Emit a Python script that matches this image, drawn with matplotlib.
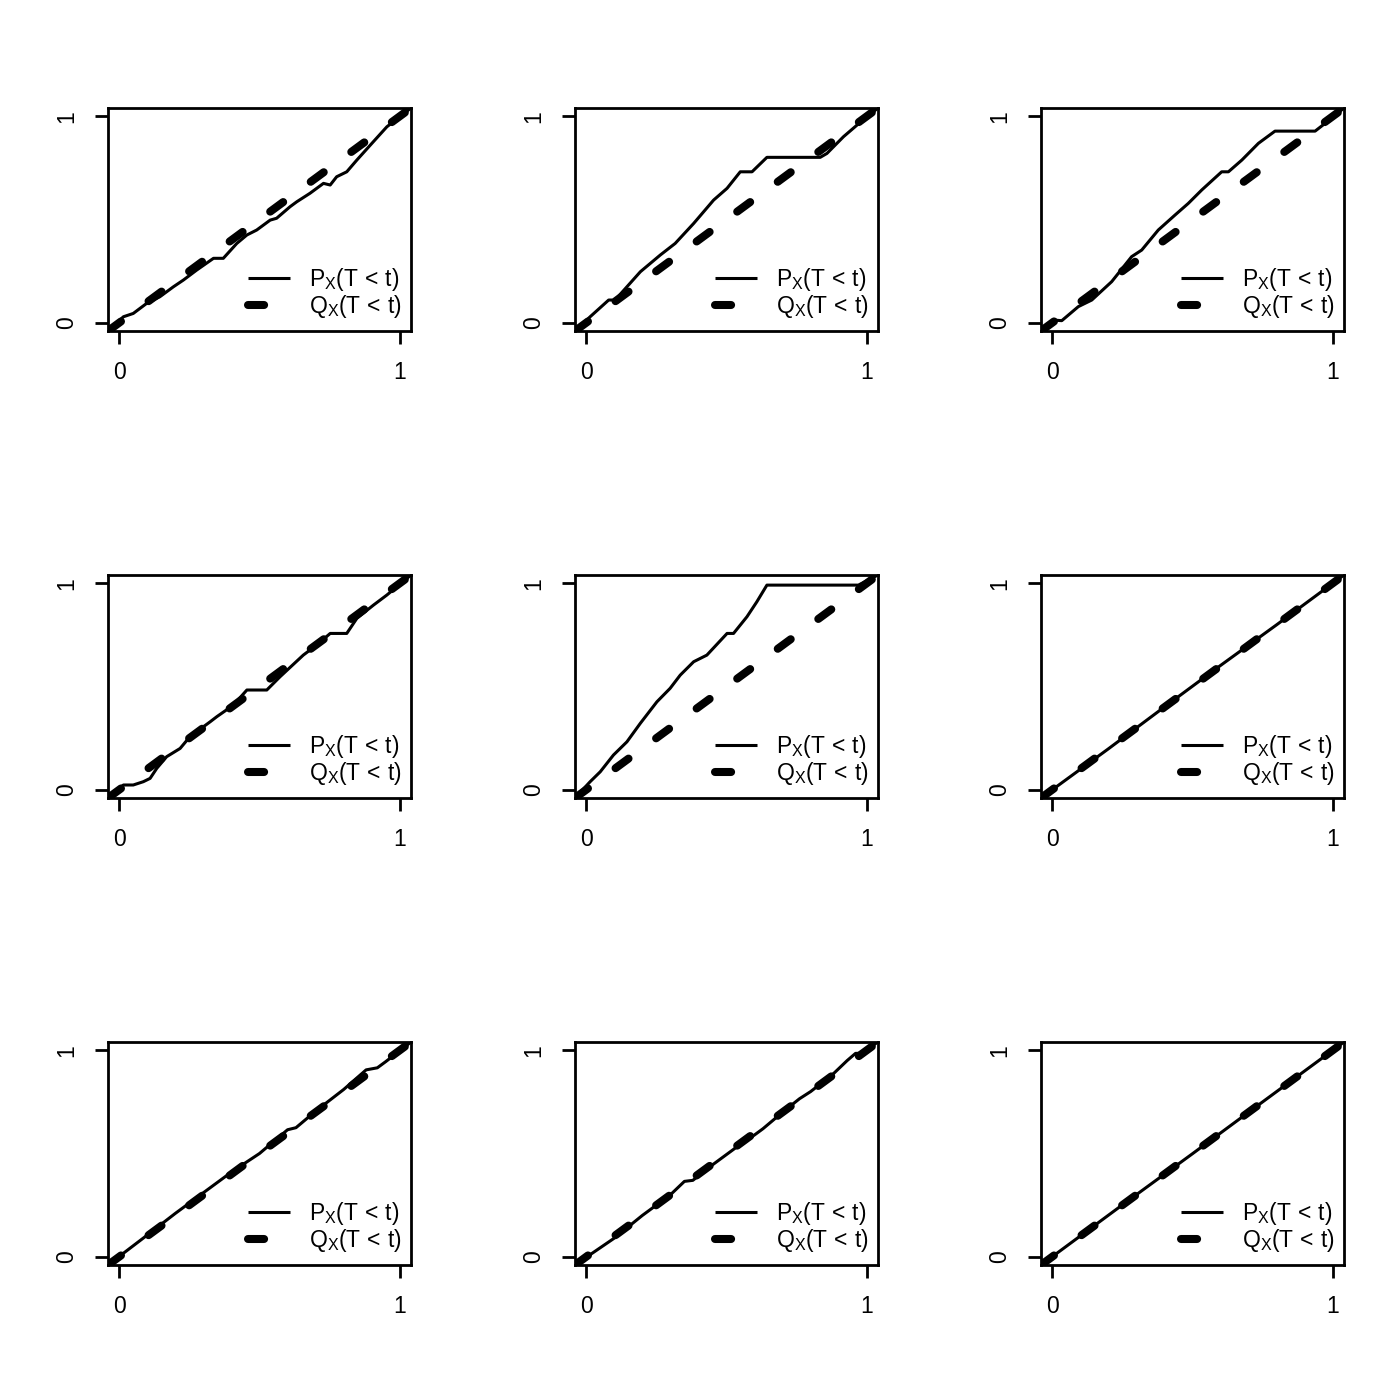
import numpy as np
import matplotlib.pyplot as plt

plt.rcParams['font.family'] = ['Liberation Sans', 'DejaVu Sans']
plt.rcParams['mathtext.fontset'] = 'custom'
plt.rcParams['mathtext.rm'] = 'Liberation Sans'
plt.rcParams['mathtext.it'] = 'Liberation Sans'

# --- datos (t, P_X(T<t)) por panel ---
p1_t = [-0.04, 0.015, 0.05, 0.098, 0.145, 0.193, 0.229, 0.276, 0.336, 0.371, 0.419, 0.455, 0.490,
        0.538, 0.561, 0.609, 0.633, 0.680, 0.728, 0.752, 0.775, 0.811, 0.847, 0.906, 0.954, 1.04]
p1_p = [-0.04, 0.029, 0.045, 0.094, 0.126, 0.174, 0.207, 0.255, 0.312, 0.312, 0.384, 0.425, 0.449,
        0.497, 0.506, 0.562, 0.586, 0.627, 0.675, 0.667, 0.707, 0.731, 0.788, 0.877, 0.949, 1.04]

p2_t = [-0.04, 0.014, 0.080, 0.103, 0.145, 0.193, 0.264, 0.317, 0.383, 0.454, 0.502, 0.549, 0.591,
        0.644, 0.834, 0.858, 0.917, 0.965, 1.04]
p2_p = [-0.04, 0.029, 0.110, 0.110, 0.174, 0.247, 0.328, 0.384, 0.481, 0.594, 0.651, 0.731, 0.731,
        0.801, 0.801, 0.820, 0.901, 0.957, 1.04]

p3_t = [-0.04, 0.004, 0.034, 0.093, 0.141, 0.212, 0.283, 0.319, 0.378, 0.438, 0.485, 0.533, 0.604,
        0.628, 0.676, 0.735, 0.794, 0.937, 0.973, 1.04]
p3_p = [-0.04, 0.013, 0.010, 0.078, 0.110, 0.199, 0.320, 0.352, 0.449, 0.522, 0.578, 0.643, 0.731,
        0.731, 0.788, 0.869, 0.928, 0.928, 0.966, 1.04]

p4_t = [-0.04, 0.015, 0.050, 0.086, 0.110, 0.134, 0.169, 0.217, 0.252, 0.324, 0.348, 0.407, 0.455,
        0.526, 0.573, 0.656, 0.704, 0.752, 0.811, 0.847, 0.906, 0.954, 1.04]
p4_p = [-0.04, 0.023, 0.023, 0.039, 0.055, 0.104, 0.160, 0.200, 0.257, 0.329, 0.354, 0.410, 0.483,
        0.483, 0.547, 0.652, 0.701, 0.757, 0.757, 0.830, 0.894, 0.943, 1.04]

p5_t = [-0.04, 0.014, 0.050, 0.097, 0.145, 0.193, 0.252, 0.299, 0.335, 0.383, 0.430, 0.502, 0.525,
        0.573, 0.608, 0.644, 0.970, 1.04]
p5_p = [-0.04, 0.039, 0.087, 0.168, 0.232, 0.322, 0.426, 0.491, 0.555, 0.620, 0.652, 0.757, 0.757,
        0.838, 0.910, 0.991, 0.991, 1.04]

p6_t = [-0.04, 0.2, 0.4, 0.6, 0.8, 1.04]
p6_p = [-0.04, 0.198, 0.401, 0.602, 0.799, 1.04]

p7_t = [-0.04, 0.1, 0.2, 0.3, 0.4, 0.5, 0.6, 0.63, 0.7, 0.8, 0.88, 0.92, 0.95, 1.04]
p7_p = [-0.04, 0.105, 0.21, 0.31, 0.41, 0.5, 0.615, 0.625, 0.705, 0.81, 0.905, 0.915, 0.945, 1.04]

p8_t = [-0.04, 0.1, 0.2, 0.3, 0.35, 0.38, 0.45, 0.55, 0.6, 0.63, 0.7, 0.76, 0.8, 0.88, 0.93, 0.96,
        0.98, 1.04]
p8_p = [-0.04, 0.09, 0.2, 0.3, 0.365, 0.37, 0.445, 0.545, 0.59, 0.62, 0.7, 0.765, 0.8, 0.885, 0.95,
        0.985, 0.985, 1.04]

p9_t = [-0.04, 0.25, 0.5, 0.75, 1.04]
p9_p = [-0.04, 0.251, 0.499, 0.75, 1.04]

paneles = [(p1_t, p1_p), (p2_t, p2_p), (p3_t, p3_p),
           (p4_t, p4_p), (p5_t, p5_p), (p6_t, p6_p),
           (p7_t, p7_p), (p8_t, p8_p), (p9_t, p9_p)]

etiq_p = r'$\mathregular{P_X(T\,<\,t)}$'
etiq_q = r'$\mathregular{Q_X(T\,<\,t)}$'
ticks = [0, 1]

fig = plt.figure(figsize=(14, 14), dpi=100)

lefts = [108, 575, 1041]
bottoms = [331, 798, 1265]
W, H = 303, 223

for i, (t, p) in enumerate(paneles):
    fila, col = divmod(i, 3)
    ax = fig.add_axes([lefts[col] / 1400, 1 - bottoms[fila] / 1400, W / 1400, H / 1400])
    ax.set_xlim(-0.04, 1.04)
    ax.set_ylim(-0.04, 1.04)
    lo, hi = ax.get_xlim()

    ax.plot(t, p, color='black', lw=2.2, solid_joinstyle='round', solid_capstyle='butt',
            label=etiq_p)
    ax.plot([lo, hi], [lo, hi], color='black', lw=5.8, linestyle=(0, (2.0, 4.25)),
            dash_capstyle='round', label=etiq_q)

    ax.set_xticks(ticks)
    ax.set_yticks(ticks)
    ax.set_xticklabels([str(v) for v in ticks])
    ax.set_yticklabels([str(v) for v in ticks], rotation=90, va='center')
    ax.tick_params(direction='out', length=9.5, width=2.0, labelsize=16.5, pad=12)
    for s in ax.spines.values():
        s.set_linewidth(2.0)

    ax.legend(loc='lower right', frameon=False, fontsize=16.5, handlelength=1.8,
              handletextpad=0.85, labelspacing=0.0, borderaxespad=0.2, borderpad=0.2,
              bbox_to_anchor=(1.0, 0.007))

plt.savefig('out.png', dpi=100)
